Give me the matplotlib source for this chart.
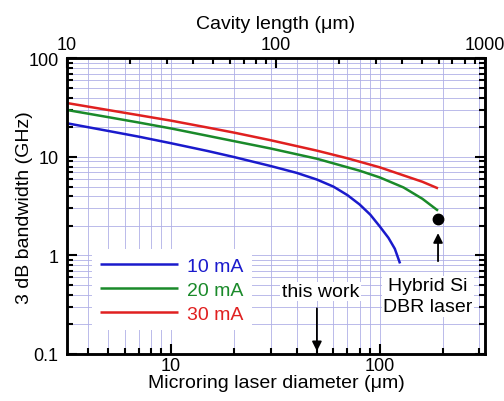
import numpy as np
import matplotlib
matplotlib.use("Agg")
import matplotlib.pyplot as plt
from matplotlib.ticker import LogLocator, NullFormatter, FixedLocator, FixedFormatter

plt.rcParams['font.family'] = ['Liberation Sans', 'DejaVu Sans']
plt.rcParams['font.size'] = 14

# microring diameter (um) and 3 dB bandwidth (GHz)
d_10 = [3.18, 5, 7, 10, 15, 20, 30, 40, 50, 60, 70, 80, 90, 100, 110, 118, 125]
bw_10 = [22.0, 18.4, 16.1, 13.8, 11.5, 10.0, 8.1, 6.9, 5.9, 5.0, 4.1, 3.3, 2.6, 1.97, 1.51, 1.17, 0.83]
d_20 = [3.18, 5, 7, 10, 15, 20, 30, 50, 80, 100, 130, 160, 190]
bw_20 = [30, 25.4, 22.4, 19.5, 16.4, 14.5, 12.2, 9.6, 7.26, 6.2, 4.9, 3.76, 2.85]
d_30 = [3.18, 5, 7, 10, 15, 20, 30, 50, 70, 100, 130, 160, 190]
bw_30 = [35.3, 30.0, 26.6, 23.4, 19.9, 17.7, 14.8, 11.6, 9.7, 7.85, 6.5, 5.6, 4.8]
labels = ["10 mA", "20 mA", "30 mA"]
colors = ["#1a1acc", "#1a8a2a", "#e02020"]

dbr_d, dbr_bw = 190, 2.35
this_work_d = 50

grid_c = "#b0b0e6"

fig = plt.figure(figsize=(5.04, 4.02), dpi=100)
ax = fig.add_axes([0.133, 0.117, 0.829, 0.735])
ax.set_xscale("log")
ax.set_yscale("log")
ax.set_xlim(10 / np.pi, 1000 / np.pi)
ax.set_ylim(0.1, 100)

ax.grid(True, which="both", color=grid_c, lw=0.6)
ax.set_axisbelow(True)

for d, bw, lab, c in zip([d_10, d_20, d_30], [bw_10, bw_20, bw_30], labels, colors):
    ax.plot(d, bw, color=c, lw=1.8, label=lab, solid_capstyle="butt")

ax.plot([dbr_d], [dbr_bw], "o", color="black", ms=7.5)

# arrows + notes
ax.annotate("", xy=(this_work_d, 0.1), xytext=(this_work_d, 0.31),
            arrowprops=dict(arrowstyle="-|>", color="black", lw=1.3, mutation_scale=14))
ax.text(52, 0.43, "this work", ha="center", va="center",
        bbox=dict(facecolor="white", edgecolor="none", pad=1))
ax.annotate("", xy=(dbr_d, 1.8), xytext=(dbr_d, 0.82),
            arrowprops=dict(arrowstyle="-|>", color="black", lw=1.3, mutation_scale=14))
ax.text(170, 0.385, "Hybrid Si\nDBR laser", ha="center", va="center", linespacing=1.3,
        bbox=dict(facecolor="white", edgecolor="none", pad=1))

leg = ax.legend(loc="lower left", bbox_to_anchor=(0.06, 0.08), frameon=True,
                handlelength=4.0, handletextpad=0.5, labelspacing=0.32,
                borderaxespad=0, fancybox=False)
leg.get_frame().set_edgecolor("none")
leg.get_frame().set_facecolor("white")
leg.get_frame().set_alpha(1)
for txt, c in zip(leg.get_texts(), colors):
    txt.set_color(c)

for s in ax.spines.values():
    s.set_linewidth(1.8)
ax.tick_params(which="both", direction="in", top=False, right=True, width=1.5, labelsize=13)
ax.tick_params(which="major", length=7, pad=6)
ax.tick_params(which="minor", length=4)
ax.tick_params(axis="x", which="major", pad=2)
ax.xaxis.set_major_locator(FixedLocator([10, 100]))
ax.xaxis.set_major_formatter(FixedFormatter(["10", "100"]))
ax.xaxis.set_minor_locator(LogLocator(base=10, subs=np.arange(2, 10)))
ax.xaxis.set_minor_formatter(NullFormatter())
ax.yaxis.set_major_locator(FixedLocator([0.1, 1, 10, 100]))
ax.yaxis.set_major_formatter(FixedFormatter(["0.1", "1", "10", "100"]))
ax.yaxis.set_minor_locator(LogLocator(base=10, subs=np.arange(2, 10)))
ax.yaxis.set_minor_formatter(NullFormatter())

ax.set_xlabel("Microring laser diameter (\u03bcm)", labelpad=0)
ax.set_ylabel("3 dB bandwidth (GHz)", labelpad=-3)

# top axis: cavity length = pi * diameter
ax2 = ax.twiny()
ax2.set_xscale("log")
ax2.set_xlim(10, 1000)
ax2.xaxis.set_major_locator(FixedLocator([10, 100, 1000]))
ax2.xaxis.set_major_formatter(FixedFormatter(["10", "100", "1000"]))
ax2.xaxis.set_minor_locator(LogLocator(base=10, subs=np.arange(2, 10)))
ax2.xaxis.set_minor_formatter(NullFormatter())
ax2.tick_params(which="both", direction="in", width=1.5, labelsize=13)
ax2.tick_params(which="major", length=7, pad=4)
ax2.tick_params(which="minor", length=4)
for s in ax2.spines.values():
    s.set_linewidth(1.8)
ax2.set_xlabel("Cavity length (\u03bcm)", labelpad=6)

fig.savefig("out.png", dpi=100)
